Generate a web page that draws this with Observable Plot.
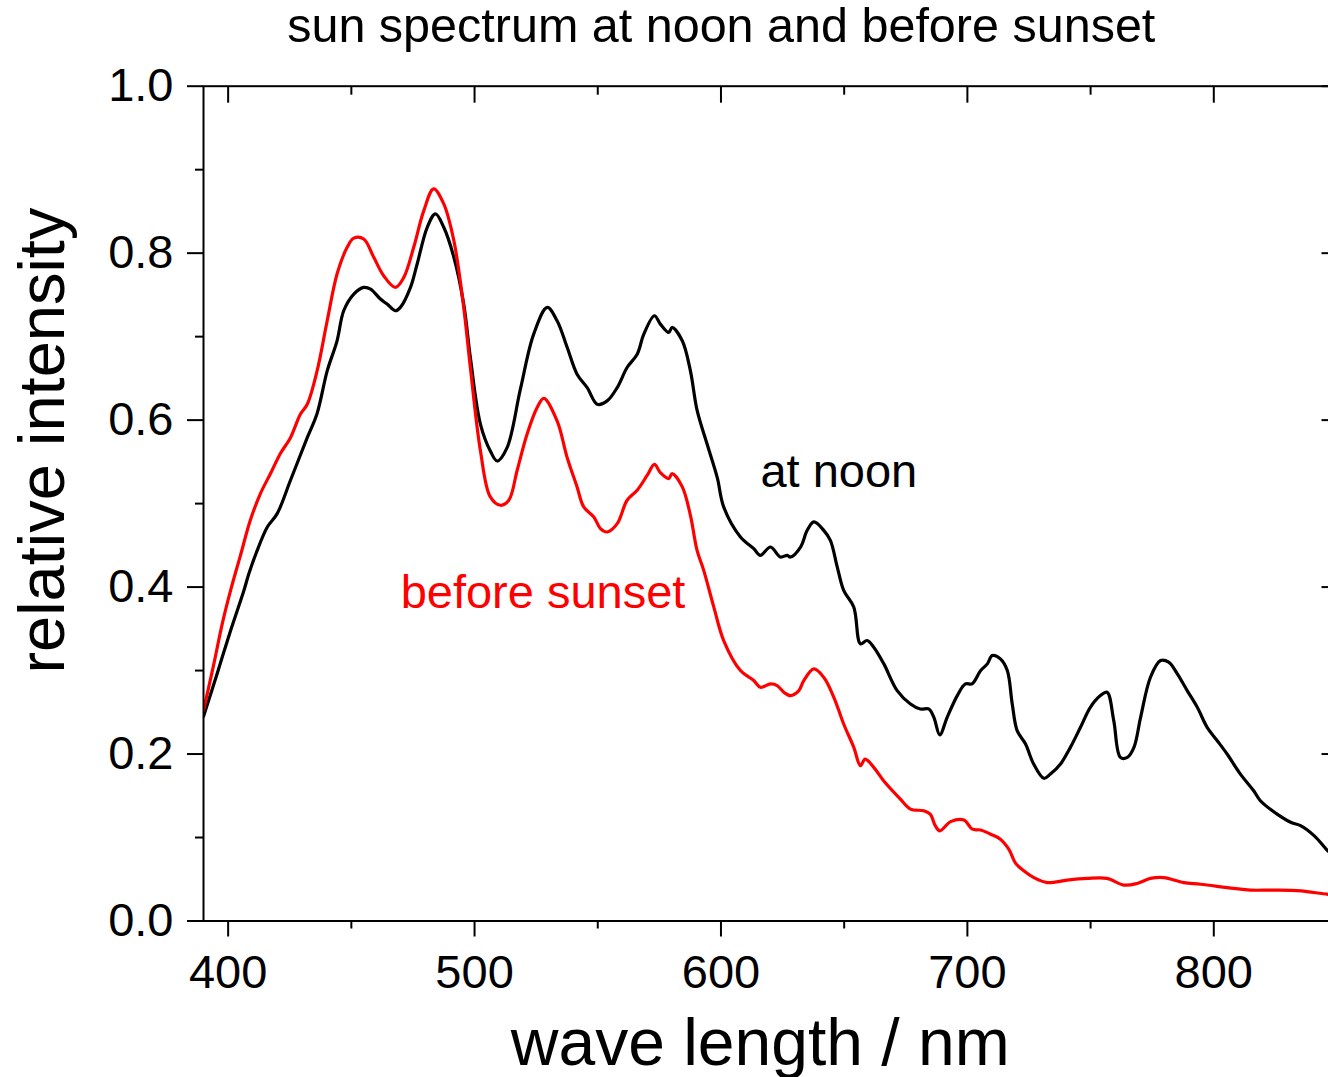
<!DOCTYPE html>
<html>
<head>
<meta charset="utf-8">
<script src="https://cdn.jsdelivr.net/npm/d3@7"></script>
<script src="https://cdn.jsdelivr.net/npm/@observablehq/plot@0.6"></script>
<style>
  html, body { margin: 0; padding: 0; background: #fff; overflow: hidden; }
  #chart svg { max-width: none !important; display: block; }
</style>
</head>
<body>
<div id="chart"></div>
<script>
const titleText = "sun spectrum at noon and before sunset";
const xLabelText = "wave length / nm";
const yLabelText = "relative intensity";

const xMajorTicks = [400, 500, 600, 700, 800];
const xMinorTicks = [450, 550, 650, 750, 850];
const yMajorTicks = [0, 0.2, 0.4, 0.6, 0.8, 1.0];
const yMinorTicks = [0.1, 0.3, 0.5, 0.7, 0.9];

const noonWavelength = [390, 395.5, 401, 406.4, 408.4, 411.8, 415.9, 419.9, 425.3, 432.1, 436.1, 440.2, 444.2, 446.9, 451, 455, 457.8, 461.8, 464.5, 467.9, 469.9, 474, 476.7, 480.8, 484.1, 487.5, 491.6, 495.6, 498.3, 502.4, 506.4, 509.2, 513.2, 518.6, 524, 529.5, 533.5, 537.6, 541.6, 545.7, 549.8, 553.8, 557.9, 561.9, 566, 568.7, 573, 575.4, 578.8, 580.2, 584.3, 587.6, 590.3, 594.4, 598.5, 601.1, 607.9, 613.3, 616, 620.1, 624.1, 626.9, 628.2, 632.3, 635, 637.7, 641.7, 644.4, 647.2, 649.8, 653.9, 656.6, 659.3, 662, 666.1, 671.5, 676.9, 680.9, 684.3, 686.4, 688.8, 691.8, 695.9, 699.2, 701.9, 705.4, 708.1, 710.1, 713.4, 716.2, 718.2, 720.2, 723.6, 726.9, 731, 733.7, 737.8, 741.8, 745.9, 749.9, 754, 756.7, 759.4, 762.1, 764.9, 767.6, 770.3, 774.3, 778.4, 781.7, 785.2, 789.2, 793.3, 797.3, 801.4, 805.4, 810.8, 816.2, 818.9, 825.7, 831.4, 835.4, 840.8, 846.3, 850];
const noonIntensity = [0.245, 0.296, 0.348, 0.396, 0.416, 0.444, 0.472, 0.488, 0.528, 0.579, 0.608, 0.659, 0.695, 0.731, 0.751, 0.759, 0.757, 0.745, 0.739, 0.731, 0.735, 0.759, 0.787, 0.831, 0.847, 0.831, 0.795, 0.739, 0.675, 0.595, 0.563, 0.551, 0.567, 0.637, 0.703, 0.735, 0.719, 0.687, 0.655, 0.639, 0.619, 0.623, 0.639, 0.663, 0.679, 0.703, 0.725, 0.715, 0.705, 0.711, 0.695, 0.659, 0.612, 0.571, 0.531, 0.496, 0.460, 0.446, 0.438, 0.448, 0.436, 0.438, 0.436, 0.448, 0.468, 0.478, 0.468, 0.456, 0.424, 0.396, 0.376, 0.332, 0.336, 0.328, 0.308, 0.276, 0.260, 0.254, 0.254, 0.244, 0.223, 0.244, 0.270, 0.284, 0.284, 0.300, 0.308, 0.318, 0.314, 0.300, 0.260, 0.228, 0.212, 0.188, 0.171, 0.176, 0.188, 0.208, 0.232, 0.256, 0.270, 0.274, 0.240, 0.196, 0.196, 0.208, 0.244, 0.292, 0.312, 0.310, 0.296, 0.276, 0.256, 0.232, 0.216, 0.200, 0.176, 0.156, 0.144, 0.128, 0.118, 0.114, 0.102, 0.084, 0.074];

const sunsetWavelength = [390, 394.2, 397.6, 401, 405, 409, 413.1, 417.2, 421.2, 425.3, 429.3, 432.1, 436.1, 440.2, 444.2, 448.3, 451, 455, 459.1, 463.1, 467.9, 471.3, 475.3, 479.4, 483.4, 487.5, 491.6, 495.6, 498.3, 502.4, 506.4, 510.5, 513.9, 517.3, 521.3, 525.4, 528.1, 533.5, 537.6, 541.6, 544.3, 548.4, 551.1, 553.8, 557.9, 561.9, 566, 570.1, 573, 575.4, 578.8, 580.2, 584.3, 587.6, 590.3, 593, 597.1, 601.1, 607.9, 613.3, 616, 620.1, 622.8, 625.5, 628.2, 631.6, 633.6, 637.7, 641.7, 645.8, 649.8, 653.9, 656.6, 658.5, 662, 666, 672.8, 676.9, 682.3, 684.9, 687, 688.8, 693.2, 698.6, 702, 705.4, 709.4, 713.4, 716.8, 719.6, 723, 727, 732.4, 740.5, 748.6, 756.7, 763.5, 768.9, 774.3, 779.7, 787.8, 794.6, 808.1, 814.9, 824.4, 835.4, 846.3, 850];
const sunsetIntensity = [0.252, 0.308, 0.356, 0.396, 0.438, 0.480, 0.512, 0.536, 0.560, 0.579, 0.607, 0.619, 0.659, 0.719, 0.775, 0.807, 0.818, 0.817, 0.795, 0.773, 0.759, 0.771, 0.807, 0.851, 0.877, 0.859, 0.815, 0.735, 0.663, 0.563, 0.508, 0.498, 0.504, 0.540, 0.583, 0.615, 0.626, 0.599, 0.555, 0.520, 0.496, 0.484, 0.470, 0.466, 0.476, 0.504, 0.516, 0.534, 0.547, 0.537, 0.530, 0.536, 0.520, 0.486, 0.444, 0.420, 0.376, 0.336, 0.300, 0.288, 0.280, 0.284, 0.282, 0.274, 0.270, 0.276, 0.288, 0.302, 0.292, 0.268, 0.236, 0.208, 0.186, 0.194, 0.184, 0.168, 0.146, 0.134, 0.132, 0.128, 0.114, 0.108, 0.119, 0.121, 0.110, 0.109, 0.104, 0.098, 0.086, 0.069, 0.060, 0.052, 0.046, 0.049, 0.051, 0.051, 0.043, 0.045, 0.051, 0.052, 0.046, 0.044, 0.039, 0.037, 0.037, 0.036, 0.032, 0.032];

const seriesLabels = ["at noon", "before sunset"];
const seriesColors = ["#000000", "#ff0000"];
const labelWavelength = [616, 470];
const labelIntensity = [0.520, 0.375];

const noon = noonWavelength.map((w, i) => ({w, v: noonIntensity[i]}));
const sunset = sunsetWavelength.map((w, i) => ({w, v: sunsetIntensity[i]}));
const labels = seriesLabels.map((t, i) => ({t, w: labelWavelength[i], v: labelIntensity[i], c: seriesColors[i]}));

const FONT = "'Liberation Sans', Arial, Helvetica, sans-serif";

const chart = Plot.plot({
  width: 1340,
  height: 1077,
  marginLeft: 203,
  marginRight: 3.5,
  marginTop: 85.7,
  marginBottom: 156.5,
  style: {fontFamily: FONT, background: "#fff", overflow: "visible", color: "#000", maxWidth: "none"},
  x: {domain: [390, 850], label: null},
  y: {domain: [0, 1], label: null},
  marks: [
    Plot.line(noon, {x: "w", y: "v", stroke: seriesColors[0], strokeWidth: 3.2, curve: "catmull-rom", clip: true}),
    Plot.line(sunset, {x: "w", y: "v", stroke: seriesColors[1], strokeWidth: 3.2, curve: "catmull-rom", clip: true}),
    Plot.frame({stroke: "#000", strokeWidth: 2}),
    Plot.axisX(xMajorTicks, {anchor: "bottom", tickSize: 16, tickPadding: 18, strokeWidth: 2, fontSize: 47, fill: "#000", tickFormat: d => String(d), label: null}),
    Plot.axisX(xMinorTicks, {anchor: "bottom", tickSize: 8, strokeWidth: 2, fill: "none", label: null}),
    Plot.axisX(xMajorTicks, {anchor: "top", tickSize: -16, strokeWidth: 2, fill: "none", label: null}),
    Plot.axisX(xMinorTicks, {anchor: "top", tickSize: -8, strokeWidth: 2, fill: "none", label: null}),
    Plot.axisY(yMajorTicks, {anchor: "left", tickSize: 16, tickPadding: 14, strokeWidth: 2, fontSize: 47, fill: "#000", tickFormat: d3.format(".1f"), label: null}),
    Plot.axisY(yMinorTicks, {anchor: "left", tickSize: 8, strokeWidth: 2, fill: "none", label: null}),
    Plot.axisY(yMajorTicks, {anchor: "right", tickSize: -16, strokeWidth: 2, fill: "none", label: null}),
    Plot.axisY(yMinorTicks, {anchor: "right", tickSize: -8, strokeWidth: 2, fill: "none", label: null}),
    Plot.text(labels, {x: "w", y: "v", text: "t", fill: "c", textAnchor: "start", lineAnchor: "bottom", fontSize: 47}),
    Plot.text([titleText], {frameAnchor: "top", textAnchor: "middle", dx: -49, dy: -43.7, lineAnchor: "bottom", fontSize: 48.5, fill: "#000"}),
    Plot.text([xLabelText], {frameAnchor: "bottom", textAnchor: "middle", dx: -10, dy: 144, lineAnchor: "bottom", fontSize: 66, fill: "#000"}),
    Plot.text([yLabelText], {frameAnchor: "left", textAnchor: "middle", rotate: -90, dx: -140, dy: -63, lineAnchor: "bottom", fontSize: 65, fill: "#000"})
  ]
});
document.getElementById("chart").appendChild(chart);
</script>
</body>
</html>
